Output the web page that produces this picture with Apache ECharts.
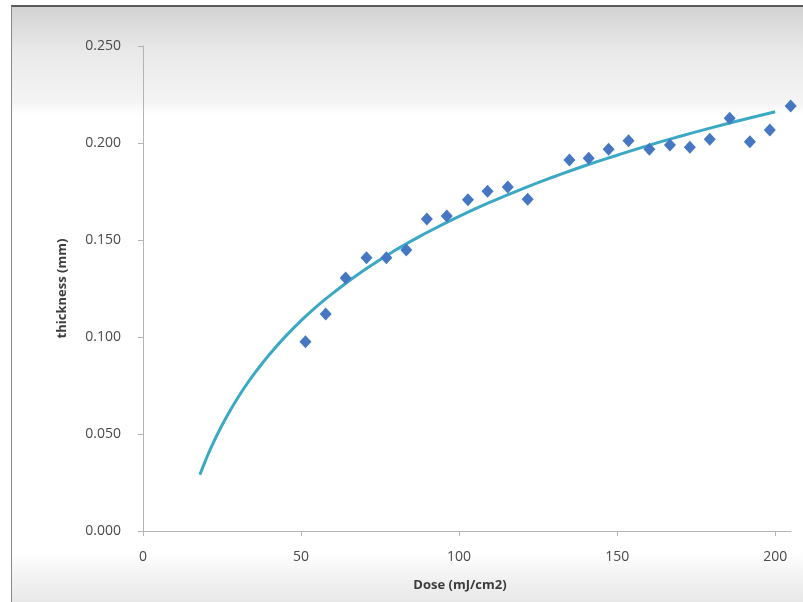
<!DOCTYPE html>
<html>
<head>
<meta charset="utf-8">
<script src="https://cdn.jsdelivr.net/npm/echarts@6/dist/echarts.min.js"></script>
<style>
  html, body { margin: 0; padding: 0; background: #ffffff; overflow: hidden; }
  #frame {
    position: absolute; left: 11px; top: 5px; width: 820px; height: 620px;
    border-top: 2px solid #5a5a5a; border-left: 1px solid #8a8a8a;
    background: linear-gradient(to bottom, #d3d3d3 0px, #e9e9e9 45px, #f4f4f4 95px, #fbfbfb 103px, #ffffff 108px, #ffffff 545px, #f0f0f0 575px, #e6e6e6 600px);
  }
  #chart { position: absolute; left: 0; top: 0; width: 803px; height: 602px; }
</style>
</head>
<body>
<div id="frame"></div>
<div id="chart"></div>
<script>
// Measured points (dose, thickness)
const doses = [51.4, 57.8, 64.1, 70.7, 77.0, 83.3, 89.8, 96.1, 102.8, 109.0, 115.4, 121.7,
               134.9, 141.0, 147.3, 153.6, 160.2, 166.7, 173.0, 179.3, 185.6, 192.0, 198.3, 204.9];
const thickness = [0.0976, 0.1119, 0.1304, 0.1409, 0.1409, 0.1448, 0.1608, 0.1624, 0.1708, 0.1751, 0.1773, 0.1710,
                   0.1912, 0.1921, 0.1968, 0.2012, 0.1968, 0.1990, 0.1978, 0.2019, 0.2127, 0.2007, 0.2067, 0.2191];
// Trend line
const trendX = [18, 20, 22, 25, 28, 32, 36, 40, 45, 50, 55, 60, 70, 80, 90, 100, 110, 120, 130, 140, 150, 160, 170, 180, 190, 200];
const trendY = [0.0290, 0.0372, 0.0446, 0.0545, 0.0633, 0.0737, 0.0828, 0.0910, 0.1002, 0.1084, 0.1158, 0.1225,
                0.1345, 0.1449, 0.1540, 0.1622, 0.1696, 0.1764, 0.1826, 0.1884, 0.1937, 0.1988, 0.2035, 0.2079, 0.2121, 0.2161];
// Tick labels
const xTicks = [0, 50, 100, 150, 200];
const yTicks = [0, 0.05, 0.10, 0.15, 0.20, 0.25];

const chart = echarts.init(document.getElementById('chart'), null, { renderer: 'canvas' });
const labelFont = { fontFamily: 'Open Sans', fontSize: 14, color: '#4a4a4a' };
const titleFont = { fontFamily: 'Open Sans', fontSize: 13, fontWeight: 'bold', color: '#3c3c3c' };
const axisLineColor = '#b4b4b4';

chart.setOption({
  animation: false,
  backgroundColor: 'transparent',
  grid: { left: 143, top: 46, right: 12, bottom: 71, containLabel: false },
  xAxis: {
    type: 'value', min: 0, max: 205, interval: 50,
    name: 'Dose (mJ/cm2)', nameLocation: 'middle', nameGap: 48,
    nameTextStyle: Object.assign({ padding: [0, 14, 0, 0] }, titleFont),
    axisLine: { show: true, lineStyle: { color: axisLineColor, width: 1 } },
    axisTick: { show: true, length: 5, inside: false, customValues: xTicks, lineStyle: { color: axisLineColor } },
    axisLabel: Object.assign({ margin: 19, customValues: xTicks }, labelFont),
    splitLine: { show: false }
  },
  yAxis: {
    type: 'value', min: 0, max: 0.25, interval: 0.05,
    name: 'thickness (mm)', nameLocation: 'middle', nameGap: 74, nameRotate: 90,
    nameTextStyle: titleFont,
    axisLine: { show: true, lineStyle: { color: axisLineColor, width: 1 } },
    axisTick: { show: true, length: 5, inside: false, customValues: yTicks, lineStyle: { color: axisLineColor } },
    axisLabel: Object.assign({ margin: 22, customValues: yTicks, formatter: v => v.toFixed(3) }, labelFont),
    splitLine: { show: false }
  },
  series: [
    {
      type: 'line', smooth: true, showSymbol: false, z: 2,
      data: trendX.map((x, i) => [x, trendY[i]]),
      lineStyle: { color: '#3ba9c5', width: 3 }
    },
    {
      type: 'scatter', symbol: 'diamond', symbolSize: [12, 13], z: 3,
      data: doses.map((x, i) => [x, thickness[i]]),
      itemStyle: { color: '#4677c3', opacity: 1 }
    }
  ]
});
</script>
</body>
</html>
